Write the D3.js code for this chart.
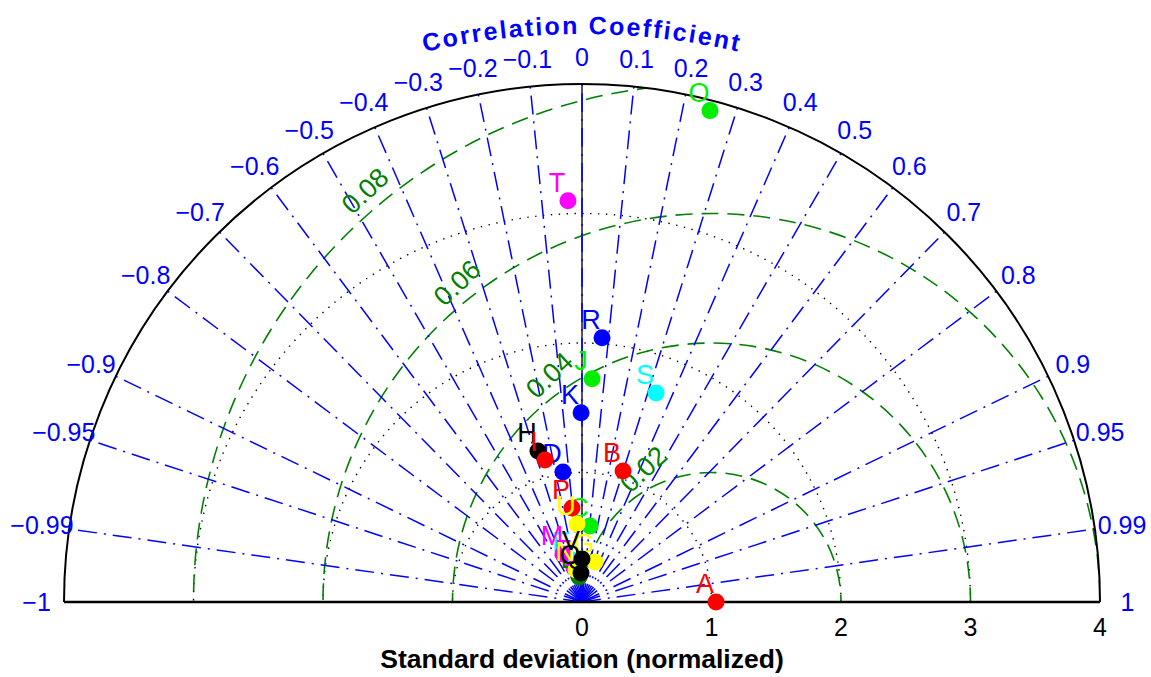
<!DOCTYPE html>
<html><head><meta charset="utf-8">
<script src="https://cdn.jsdelivr.net/npm/d3@7"></script>
<style>body{margin:0;background:#fff} svg{display:block}</style>
</head><body><svg id="c" width="1151" height="677"></svg>
<script>
// ---- data ----
const pointLabels = ["A","B","C","D","E","F","G","H","I","J","K","L","M","N","O","P","Q","R","S","T","U","V"];
const pointStd    = [1.035,1.061,0.590,1.015,0.334,0.270,0.325,1.215,1.134,1.725,1.461,0.195,0.399,0.251,3.921,0.730,0.224,2.046,1.713,3.101,0.604,0.332];
const pointCorr   = [1.000,0.299,0.105,-0.145,-0.231,-0.229,0.309,-0.280,-0.252,0.045,-0.005,-0.118,-0.368,-0.184,0.252,-0.106,-0.034,0.0756,0.334,-0.035,-0.064,0.000];
const pointColors = ["#ff0000","#ff0000","#00ee00","#0000ff","#00ffff","#ff00ff","#ffff00","#000000","#ff0000","#00ee00","#0000ff","#008000","#ff00ff","#ffff00","#00ee00","#ff0000","#000000","#0000ff","#00ffff","#ff00ff","#ffff00","#000000"];
const stdTicks = [0,1,2,3,4];
const stdCircles = [1,2,3];
const refStd = 1;
const rmsTicks = [1,2,3,4];
const rmsTickLabels = ["0.02","0.04","0.06","0.08"];
const corrTicks = [-1,-0.99,-0.95,-0.9,-0.8,-0.7,-0.6,-0.5,-0.4,-0.3,-0.2,-0.1,0,0.1,0.2,0.3,0.4,0.5,0.6,0.7,0.8,0.9,0.95,0.99,1];
const xTitle = "Standard deviation (normalized)";
const corrTitle = "Correlation Coefficient";

// ---- layout ----
const cx = 582, cy = 602, maxStd = 4;
const FONT = "'Liberation Sans', Arial, Helvetica, sans-serif";
const r = d3.scaleLinear().domain([0, maxStd]).range([0, 518]);
const svg = d3.select("#c");
const px = (s, c) => cx + r(s) * c;
const py = (s, c) => cy - r(s) * Math.sqrt(Math.max(0, 1 - c * c));
const fmt = v => (v < 0 ? "\u2212" : "") + String(Math.abs(v));

// clip to semicircle
const clipP = d3.path();
clipP.moveTo(cx + r(maxStd), cy);
clipP.arc(cx, cy, r(maxStd), 0, -Math.PI, true);
clipP.closePath();
svg.append("clipPath").attr("id", "semi").append("path").attr("d", clipP.toString());

const g = svg.append("g");

// std dotted circles
stdCircles.forEach(s => {
  const p = d3.path();
  p.moveTo(cx + r(s), cy);
  p.arc(cx, cy, r(s), 0, -Math.PI, true);
  g.append("path").attr("d", p.toString()).attr("fill", "none")
    .attr("stroke", "#000").attr("stroke-width", 1.4).attr("stroke-dasharray", "1.4,6.5");
});

// RMS circles around reference
const rmsG = g.append("g").attr("clip-path", "url(#semi)");
rmsTicks.forEach(k => {
  const p = d3.path();
  const ax = cx + r(refStd);
  p.moveTo(ax + r(k), cy);
  p.arc(ax, cy, r(k), 0, 2 * Math.PI, false);
  rmsG.append("path").attr("d", p.toString()).attr("fill", "none")
    .attr("stroke", "#008000").attr("stroke-width", 1.6).attr("stroke-dasharray", "17,9");
});

// vertical axis line
g.append("line").attr("x1", cx).attr("y1", cy).attr("x2", cx).attr("y2", cy - r(maxStd))
  .attr("stroke", "#555").attr("stroke-width", 2);

// correlation lines
corrTicks.filter(c => Math.abs(c) < 1).forEach(c => {
  g.append("line").attr("x1", cx).attr("y1", cy)
    .attr("x2", px(maxStd, c)).attr("y2", py(maxStd, c))
    .attr("stroke", "#0000ff").attr("stroke-width", 1.5).attr("stroke-dasharray", "19,7,2,7");
});

// RMS labels
rmsTicks.forEach((k, i) => {
  const Rl = k + 0.15;
  const phi = (135 - Math.asin(0.3536 / Rl) * 180 / Math.PI) * Math.PI / 180;
  const x = cx + r(refStd + Rl * Math.cos(phi));
  const y = cy - r(Rl * Math.sin(phi));
  g.append("text").attr("transform", `translate(${x},${y}) rotate(-43)`)
    .attr("text-anchor", "middle").attr("dominant-baseline", "central")
    .attr("font-family", FONT).attr("font-size", 27).attr("fill", "#008000")
    .text(rmsTickLabels[i]);
});

// outer arc and baseline
const outer = d3.path();
outer.moveTo(cx + r(maxStd), cy);
outer.arc(cx, cy, r(maxStd), 0, -Math.PI, true);
g.append("path").attr("d", outer.toString()).attr("fill", "none").attr("stroke", "#000").attr("stroke-width", 2);
g.append("line").attr("x1", cx - r(maxStd)).attr("x2", cx + r(maxStd)).attr("y1", cy).attr("y2", cy)
  .attr("stroke", "#000").attr("stroke-width", 2.5);

// correlation tick labels
const labR = maxStd * 1.053;
corrTicks.forEach(c => {
  g.append("text").attr("x", px(labR, c)).attr("y", py(labR, c))
    .attr("text-anchor", "middle").attr("dominant-baseline", "central")
    .attr("font-family", FONT).attr("font-size", 25).attr("fill", "#0000ff")
    .text(fmt(c));
});

// std tick labels
stdTicks.forEach(s => {
  g.append("text").attr("x", cx + r(s)).attr("y", cy + 34)
    .attr("text-anchor", "middle").attr("font-family", FONT).attr("font-size", 25).attr("fill", "#000")
    .text(String(s));
});
g.append("text").attr("x", cx).attr("y", cy + 66).attr("text-anchor", "middle")
  .attr("font-family", FONT).attr("font-size", 26.5).attr("font-weight", "bold").attr("fill", "#000")
  .text(xTitle);

// curved title (flatter arc than the axis circle)
const tR = 700, tTop = 34;
const tcy = tTop + tR;
const tp = d3.path();
tp.moveTo(cx - tR, tcy);
tp.arc(cx, tcy, tR, -Math.PI, 0, false);
svg.append("path").attr("id", "titleArc").attr("d", tp.toString()).attr("fill", "none");
const tt = g.append("text").attr("font-family", FONT).attr("font-size", 25).attr("font-weight", "bold").attr("fill", "#0000ff");
tt.append("textPath").attr("href", "#titleArc").attr("startOffset", "50%").attr("text-anchor", "middle").text(corrTitle);
const len = tt.node().getComputedTextLength();
tt.attr("letter-spacing", (318 - len) / corrTitle.length);

// points
pointLabels.forEach((lab, i) => {
  const x = px(pointStd[i], pointCorr[i]), y = py(pointStd[i], pointCorr[i]);
  g.append("circle").attr("cx", x).attr("cy", y).attr("r", 8.5).attr("fill", pointColors[i]);
  g.append("text").attr("x", x - 11).attr("y", y - 9).attr("text-anchor", "middle")
    .attr("font-family", FONT).attr("font-size", 27).attr("fill", pointColors[i]).text(lab);
});
</script>
</body></html>
